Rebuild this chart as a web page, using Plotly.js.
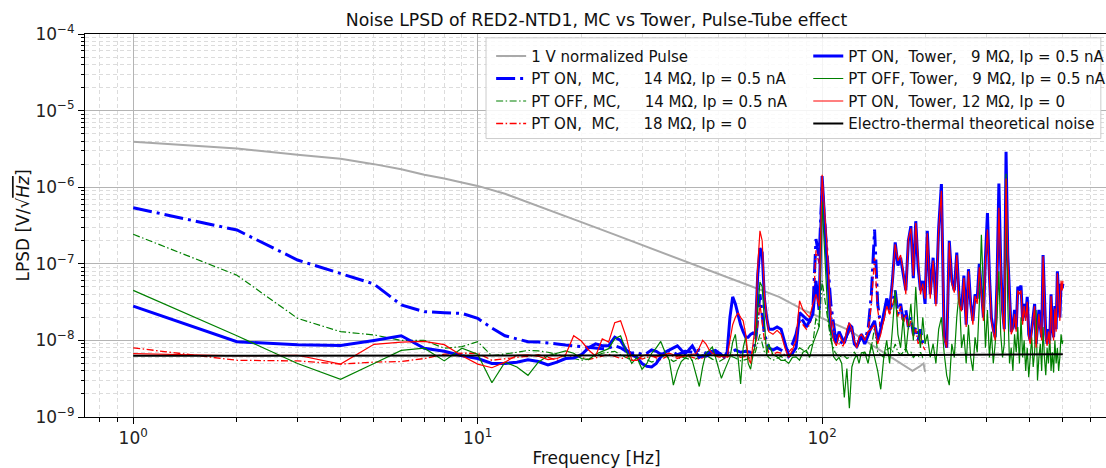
<!DOCTYPE html>
<html><head><meta charset="utf-8">
<script src="https://cdn.plot.ly/plotly-3.0.1.min.js"></script>
<style>html,body{margin:0;padding:0;overflow:hidden;background:#fff}</style>
</head><body><div id="chart" style="width:1120px;height:468px"></div>
<script>
// ---------- DATA (LPSD values in nV/sqrt(Hz)) ----------
const freqPulse = [1,2,3,4,5,6,7,8,9,10,12,15,20,25,30,40,50,60,75,90,100,120,140,160,183,191,197,199];
const pulseNV = [3930,3200,2650,2350,2000,1710,1450,1300,1150,1040,820,570,350,240,176,108,75,55,37,24,19.5,13.5,8.6,5.9,4.0,4.5,5.0,3.9];

const freqET = [1,10,50,100,200,300,400,500];
const etNV = [6.3,6.3,6.35,6.4,6.45,6.5,6.55,6.6];

const freqMC = [1,2,3,4,5,6,7,8,9,10,11,12,13,14,15,16,17,18,19,20,21,22,23,24,25,26,27,28,29,30,31,32,33,34,35,36,37,38,39,40,
42,44,46,48,50,52,54,56,58,60,62,64,66,68,70,72,74,76,78,80,82,84,86,88,90,92,94,96,98,100,
103,106,109,112,115,118,121,124,127,130,133,136,139,142,145,148,151,154,157,160,163,166,169,172,175,178,181,184,187,190,193,196,199];
const mcBlueOn14NV = [540,276,112,75,54.5,29,23.7,23,22.5,19.4,
14.5,11.5,10.5,9.6,9.5,9.3,9.0,8.7,8.5,8.3,
8.1,7.9,7.8,8.0,8.5,8.0,7.2,6.8,7.0,6.5,
6.8,7.5,7.2,6.6,6.8,7.4,7.0,6.5,6.8,7.2,
7.0,7.5,6.8,7.2,6.5,7.0,6.8,7.5,7.0,7.2,7.0,9,40,12,8,7.5,8,7.5,7,8,9,12,20,18,15,18,25,210,120,1000,
150,30,12,10,9,12,15,10,9,12,10,14,40,280,30,15,20,35,25,30,45,22,30,18,25,15,20,12,15,10,14,9,8];
const mcGreenOff14NV = [243,71,19.4,13,11.8,10,10,7.9,8.3,9.6,
6.3,6.6,7.0,7.4,7.3,7.0,6.5,6.2,5.8,5.5,
5.7,6.2,6.8,7.0,7.2,6.5,6.0,5.5,5.8,6.2,
5.6,5.2,5.5,6.0,6.4,5.8,5.3,5.6,6.1,5.9,
5.5,6.0,6.4,5.7,5.2,5.8,6.3,5.9,5.4,5.6,6.0,7,12,7,6,5.5,5.8,6.2,5.6,6.0,6.5,7.0,8.0,7.5,7.0,8.5,9.0,20,15,60,
25,10,7,6,6.5,5.8,6.2,7,6,6.5,7,6,8,15,7,6.5,6,7.5,8,7,9,7,6.5,7,8,6.5,7,6,6.5,6,7,6,6.5];
const mcRedOn18NV = [8.0,5.5,5.4,4.9,5.2,5.3,5.8,6.6,6.8,6.8,
5.5,5.8,6.0,6.2,6.5,6.0,5.5,5.8,6.3,6.0,
5.6,5.9,6.3,6.6,6.2,5.8,6.0,6.4,6.1,5.7,
6.0,6.3,5.9,5.6,6.0,6.4,6.2,5.8,6.1,6.3,
6.0,5.7,6.2,6.5,6.1,5.8,6.3,6.6,6.0,6.2,6.4,8,30,10,7,6.5,7,6.8,6.5,7,8,10,18,16,14,16,22,150,100,1200,
130,25,11,9,8.5,11,14,9.5,8.5,11,9.5,13,30,120,25,14,18,30,22,28,40,20,28,16,22,14,18,11,14,9,12,8.5,7.5];

const freqTower = [1,2,3,4,5,6,7,8,9,10,11,12,13,14,15,16,17,18,19,20,21,22,23,24,25,26,27,28,29,30,31,32,33,34,35,36,37,38,39,40,41,42,43,44,45,46,47,48,49,50,51,52,53,54,55,56,57,58,59,60,61,62,63,64,65,66,67,68,69,70,
72,74,76,78,80,82,84,86,88,90,92,94,96,98,100,102,104,106,108,110,112,114,116,118,120,122,124,126,128,130,
133,136,139,142,145,148,151,154,157,160,163,166,169,172,175,178,181,184,187,190,193,196,199,
202,206,210,214,218,222,226,230,234,238,242,246,250,254,258,262,266,270,274,278,282,286,290,294,298,302,306,310,314,318,322,326,330,334,338,342,346,350,354,358,362,366,370,374,378,382,386,390,394,398,402,406,410,414,418,422,426,430,434,438,442,446,450,454,458,462,466,470,474,478,482,486,490,494,498,500];
const towBlueOn9NV = [28,9.6,8.8,8.6,10,11.5,7.9,7.2,6.3,5.8,
5.0,5.0,5.2,5.6,5.3,4.8,5.2,5.8,5.9,6.5,
8.0,9.0,8.5,8.5,11,10,7.5,6.5,6.0,5.0,
4.6,4.5,5.0,6.1,7.0,7.5,8.0,8.5,7.5,6.7,
7.5,8.5,7.0,6.0,6.3,6.2,6.5,7.2,7.4,7.0,
6.5,6.1,7.0,20,37,30,22,16,13,11,
11,12,12.5,12,70,160,140,35,20,14,
14,15,14,9,6.2,6.8,8,23,21,19,18,22,60,25,1400,300,75,14,11,9.2,13,11,9.2,12,16,15,9,8.3,10,11.5,
9,12,15,18,10,14,22,35,25,60,190,95,120,70,45,200,310,65,360,90,45,60,30,
270,40,120,30,300,1100,12,8,200,60,
45,140,35,25,70,16,85,30,18,40,
35,100,45,20,120,460,70,20,14,11,
60,1120,100,25,14,2900,130,40,13,15,
25,14,50,45,52,18,30,20,37,12,
10,14,22,30,9,14,25,15,11,130,
35,12,9,14,10,40,15,11,28,14,
80,40,20,55,48,55];
const towGreenOff9NV = [45,11.5,5.0,3.1,5.0,7.4,7.9,5.4,7.9,6.6,
2.8,5.2,4.5,3.5,5.2,6.3,6.8,7.3,6.8,5.8,
5.6,6.6,7.2,7.8,10.5,11.5,7.2,5.0,6.0,4.2,
5.0,6.8,8.0,9.7,7.0,5.5,2.6,4.0,5.3,5.8,
6.5,5.4,3.8,2.5,4.5,6.8,7.4,8.2,6.1,4.5,
3.2,4.0,5.0,6.0,9.5,12,6.0,2.7,8.0,11,
5.0,4.2,6.5,9.0,25,58,50,15,6.5,9,
6.5,6.1,5.5,5.5,5.0,6.0,6.1,5.5,7.0,7.4,6.0,9.0,11.5,15,650,120,20,12,6.1,5.5,6,5,1.8,4.3,1.3,4.5,5.7,6.5,5,6.9,
7,5,9,6,4,2.3,6,10,5,14,45,12,8,20,7,15,30,10,50,14,8,20,9,
12,6,9,5,14,20,7,3.5,2.6,9,
6,20,44,8,12,5,16,6,4,11,
7,30,240,55,8,25,6,13,5,9,
20,80,12,6,9,1500,30,5,8,4,
12,7,15,5,20,6,10,4,8,3.3,
6,11,4.5,7,25,3,6,9,4,15,
6,3.5,8,5,12,4,7,3.8,10,5,
8,4,6,12,9,10];
const towRedOn12NV = [6.7,6.3,6.4,4.9,8.9,9.5,9.7,8.8,6.3,4.9,
4.4,5.2,6.4,6.5,6.2,5.6,5.8,6.5,11.5,9.8,
7.5,6.2,10.5,9.5,17,18,11,5.5,5.5,6.2,
6.5,6.3,6.1,6.3,6.5,6.8,6.5,6.1,6.1,6.3,
6.5,6.6,6.7,8.0,10,9.0,7.5,6.8,6.5,6.3,
6.2,6.1,6.1,10,16,20,23,20,18,12,
6,5,10,16,90,270,200,40,20,13,
12,13.5,12,8,6,7.5,10,33,25,22,20,30,40,28,1450,400,110,16,10,8.5,12,10,9,14,17,14,10,8,11,12,
10,13,14,16,9,12,18,28,22,55,180,110,130,80,40,210,290,70,340,100,40,55,35,
250,35,110,28,280,900,11,8,190,55,
42,130,30,24,65,15,80,28,16,38,
30,90,40,18,110,280,65,18,13,10,
55,540,90,22,13,1300,120,38,12,14,
22,13,45,40,45,16,28,18,32,11,
9,13,20,28,8,12,22,14,10,125,
32,11,8.5,13,9,38,14,10,26,13,
75,38,18,60,45,60];

const xTickVals = [1,10,100];
const xTickText = ['10<sup>0</sup>','10<sup>1</sup>','10<sup>2</sup>'];
const yTickVals = [1e-9,1e-8,1e-7,1e-6,1e-5,1e-4];
const yTickText = ['10<sup>\u22129</sup>','10<sup>\u22128</sup>','10<sup>\u22127</sup>','10<sup>\u22126</sup>','10<sup>\u22125</sup>','10<sup>\u22124</sup>'];

const NB = '\u00a0';
const sp = n => NB.repeat(n);
const names = {
  pulse: '1 V normalized Pulse',
  mcBlue: 'PT ON,' + sp(2) + 'MC,' + sp(5) + '14 M\u03a9, Ip = 0.5 nA',
  mcGreen: 'PT OFF, MC,' + sp(5) + '14 M\u03a9, Ip = 0.5 nA',
  mcRed: 'PT ON,' + sp(2) + 'MC,' + sp(5) + '18 M\u03a9, Ip = 0',
  towBlue: 'PT ON,' + sp(2) + 'Tower,' + sp(3) + '9 M\u03a9, Ip = 0.5 nA',
  towGreen: 'PT OFF, Tower,' + sp(3) + '9 M\u03a9, Ip = 0.5 nA',
  towRed: 'PT ON,' + sp(2) + 'Tower, 12 M\u03a9, Ip = 0',
  et: 'Electro-thermal theoretical noise'
};

const toV = a => a.map(v => v * 1e-9);
const FONT = 'DejaVu Sans, Verdana, sans-serif';

const traces = [
  {x: freqPulse, y: toV(pulseNV), name: names.pulse, legend: 'legend', line: {color: '#a9a9a9', width: 2}},
  {x: freqMC, y: toV(mcBlueOn14NV), name: names.mcBlue, legend: 'legend', line: {color: '#0000ff', width: 3, dash: '19px,5px,3px,5px'}},
  {x: freqMC, y: toV(mcGreenOff14NV), name: names.mcGreen, legend: 'legend', line: {color: '#008000', width: 1.2, dash: '7px,2.5px,1.5px,2.5px'}},
  {x: freqMC, y: toV(mcRedOn18NV), name: names.mcRed, legend: 'legend', line: {color: '#ff0000', width: 1.3, dash: '7px,2.5px,1.5px,2.5px'}},
  {x: freqTower, y: toV(towBlueOn9NV), name: names.towBlue, legend: 'legend2', line: {color: '#0000ff', width: 3}},
  {x: freqTower, y: toV(towGreenOff9NV), name: names.towGreen, legend: 'legend2', line: {color: '#008000', width: 1.2}},
  {x: freqTower, y: toV(towRedOn12NV), name: names.towRed, legend: 'legend2', line: {color: '#ff0000', width: 1.2}},
  {x: freqET, y: toV(etNV), name: names.et, legend: 'legend2', line: {color: '#000000', width: 2}}
].map(t => Object.assign({type: 'scatter', mode: 'lines', hoverinfo: 'skip'}, t));

const axisCommon = {
  type: 'log', showline: true, linecolor: '#000', linewidth: 1, mirror: true,
  ticks: 'outside', ticklen: 6, tickwidth: 1, tickcolor: '#000',
  showgrid: true, gridcolor: '#b4b4b4', gridwidth: 1, zeroline: false,
  tickfont: {family: FONT, size: 17, color: '#222'},
  minor: {dtick: 'D1', ticks: 'outside', ticklen: 3.5, tickwidth: 1, tickcolor: '#000',
          showgrid: true, gridcolor: '#dcdcdc', gridwidth: 1, griddash: '4px,3px'}
};

const legendCommon = {xanchor: 'left', yanchor: 'top', y: 0.985, bgcolor: 'rgba(0,0,0,0)', borderwidth: 0,
  font: {family: FONT, size: 15, color: '#111'}, tracegroupgap: 0, itemwidth: 30};

const layout = {
  width: 1120, height: 468,
  margin: {l: 85, r: 9, t: 34, b: 51},
  paper_bgcolor: '#fff', plot_bgcolor: '#fff',
  font: {family: FONT, size: 17, color: '#111'},
  title: {text: 'Noise LPSD of RED2-NTD1, MC vs Tower, Pulse-Tube effect', font: {family: FONT, size: 17.3, color: '#111'},
          xref: 'paper', x: 0.5, xanchor: 'center', yref: 'container', y: 0.958, yanchor: 'middle'},
  xaxis: Object.assign({}, axisCommon, {range: [-0.14, 2.83], tickmode: 'array', tickvals: xTickVals, ticktext: xTickText,
    title: {text: 'Frequency [Hz]', font: {family: FONT, size: 17}, standoff: 6}}),
  yaxis: Object.assign({}, axisCommon, {range: [-9, -4], tickmode: 'array', tickvals: yTickVals, ticktext: yTickText,
    title: {text: 'LPSD [V/\u221a<i><span style="text-decoration:overline">Hz</span></i>]', font: {family: FONT, size: 17}, standoff: 1}}),
  showlegend: true,
  legend: Object.assign({}, legendCommon, {x: 0.397}),
  legend2: Object.assign({}, legendCommon, {x: 0.707}),
  shapes: [{type: 'rect', xref: 'paper', yref: 'paper', x0: 0.392, x1: 0.993, y0: 0.727, y1: 0.99,
            fillcolor: 'rgba(255,255,255,0.85)', line: {color: '#cccccc', width: 1}, layer: 'above'}]
};

Plotly.newPlot('chart', traces, layout, {displayModeBar: false, staticPlot: true});
</script></body></html>
